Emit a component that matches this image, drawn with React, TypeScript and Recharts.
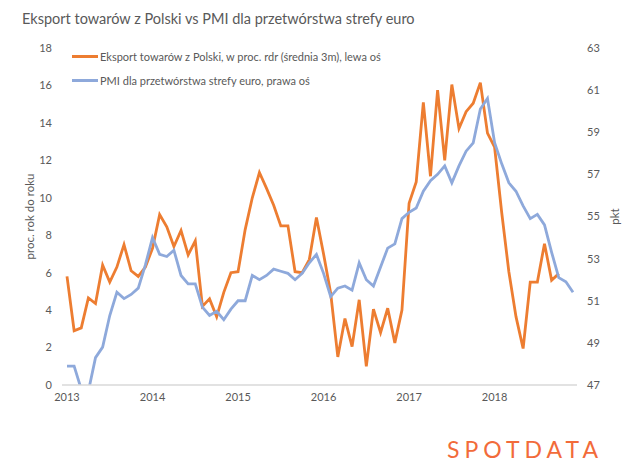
import { Legend, Line, LineChart, XAxis, YAxis } from "recharts";

const years = [2013, 2014, 2015, 2016, 2017, 2018];
const months = years.flatMap((y) =>
  Array.from({ length: 12 }, (_, m) => `${y}-${String(m + 1).padStart(2, "0")}`)
);

// eksport towarów z Polski, % r/r, średnia 3m (lewa oś)
const eksport2013 = [5.8, 2.9, 3.05, 4.65, 4.35, 6.4, 5.5, 6.3, 7.5, 6.1, 5.8, 6.3];
const eksport2014 = [7.3, 9.1, 8.45, 7.4, 8.25, 6.95, 7.7, 4.2, 4.6, 3.65, 4.95, 6.0];
const eksport2015 = [6.05, 8.3, 10.0, 11.35, 10.5, 9.6, 8.5, 8.5, 6.05, 6.0, 6.7, 8.95];
const eksport2016 = [7.0, 4.9, 1.5, 3.55, 2.05, 4.55, 1.0, 4.05, 2.8, 4.1, 2.25, 4.0];
const eksport2017 = [9.7, 10.85, 15.1, 11.15, 15.75, 12.0, 16.05, 13.7, 14.6, 15.05, 16.15, 13.45];
const eksport2018 = [12.7, 9.2, 6.05, 3.65, 1.95, 5.5, 5.5, 7.55, 5.6, 5.95, null, null];

// PMI przetwórstwa strefy euro, pkt (prawa oś)
const pmi2013 = [47.9, 47.9, 46.8, 46.7, 48.3, 48.8, 50.3, 51.4, 51.1, 51.3, 51.6, 52.7];
const pmi2014 = [54.0, 53.2, 53.1, 53.4, 52.2, 51.8, 51.8, 50.7, 50.3, 50.5, 50.1, 50.6];
const pmi2015 = [51.0, 51.0, 52.2, 52.0, 52.2, 52.5, 52.4, 52.3, 52.0, 52.3, 52.8, 53.2];
const pmi2016 = [52.3, 51.2, 51.6, 51.7, 51.5, 52.8, 52.0, 51.7, 52.6, 53.5, 53.7, 54.9];
const pmi2017 = [55.2, 55.4, 56.2, 56.7, 57.0, 57.4, 56.6, 57.4, 58.1, 58.5, 60.1, 60.6];
const pmi2018 = [58.5, 57.5, 56.6, 56.2, 55.5, 54.9, 55.1, 54.6, 53.3, 52.1, 51.9, 51.4];

const eksport = [...eksport2013, ...eksport2014, ...eksport2015, ...eksport2016, ...eksport2017, ...eksport2018];
const pmi = [...pmi2013, ...pmi2014, ...pmi2015, ...pmi2016, ...pmi2017, ...pmi2018];

const leftTicks = [0, 2, 4, 6, 8, 10, 12, 14, 16, 18];
const rightTicks = [47, 49, 51, 53, 55, 57, 59, 61, 63];

const data = months.map((month, i) => ({ month, eksport: eksport[i], pmi: pmi[i] }));

const ORANGE = "#ED7D31";
const BLUE = "#8EA9DB";
const GREY = "#595959";
const FONT = "Lato, 'Open Sans', sans-serif";

const tickStyle = { fill: GREY, fontSize: 11, fontFamily: FONT };

function LegendBox({ payload }: any) {
  return (
    <div style={{ fontFamily: FONT, fontSize: 11, color: GREY }}>
      {(payload || []).map((p: any) => (
        <div key={p.value} style={{ display: "flex", alignItems: "center", height: 24.5 }}>
          <span style={{ display: "inline-block", width: 26, height: 3, background: p.color, marginRight: 2 }} />
          <span>{p.value}</span>
        </div>
      ))}
    </div>
  );
}

export default function App() {
  return (
    <div style={{ position: "absolute", left: 0, top: 0, width: 640, height: 472, background: "#fff", fontFamily: FONT }}>
      <div style={{ position: "absolute", left: 22, top: 10, fontSize: 14.5, color: GREY, whiteSpace: "nowrap" }}>
        Eksport towarów z Polski vs PMI dla przetwórstwa strefy euro
      </div>
      <LineChart width={640} height={472} data={data} margin={{ top: 48, right: 0, bottom: 57, left: 0 }}>
        <XAxis
          dataKey="month"
          height={30}
          interval={0}
          tickLine={false}
          axisLine={{ stroke: "#D9D9D9", strokeWidth: 1.5 }}
          padding={{ left: 5, right: 4 }}
          tick={tickStyle}
          tickFormatter={(m: string) => (m.endsWith("-01") ? m.slice(0, 4) : "")}
        />
        <YAxis
          yAxisId="left"
          width={62}
          domain={[0, 18]}
          ticks={leftTicks}
          interval={0}
          axisLine={false}
          tickLine={false}
          tickMargin={4}
          tick={tickStyle}
          label={{ value: "proc. rok do roku", angle: -90, position: "center", dx: -1, fill: GREY, fontSize: 11.5, fontFamily: FONT }}
        />
        <YAxis
          yAxisId="right"
          orientation="right"
          width={63}
          domain={[47, 63]}
          ticks={rightTicks}
          interval={0}
          allowDataOverflow
          axisLine={false}
          tickLine={false}
          tickMargin={4}
          tick={tickStyle}
          label={{ value: "pkt", angle: -90, position: "center", dx: 6, fill: GREY, fontSize: 11.5, fontFamily: FONT }}
        />
        <Legend
          layout="vertical"
          align="center"
          verticalAlign="middle"
          wrapperStyle={{ top: 44, left: 72, width: "auto" }}
          content={<LegendBox />}
        />
        <Line
          yAxisId="left"
          dataKey="eksport"
          name="Eksport towarów z Polski, w proc. rdr (średnia 3m), lewa oś"
          stroke={ORANGE}
          strokeWidth={2.8}
          dot={false}
          activeDot={false}
          isAnimationActive={false}
        />
        <Line
          yAxisId="right"
          dataKey="pmi"
          name="PMI dla przetwórstwa strefy euro, prawa oś"
          stroke={BLUE}
          strokeWidth={2.8}
          dot={false}
          activeDot={false}
          isAnimationActive={false}
        />
      </LineChart>
      <div
        style={{
          position: "absolute",
          left: 447,
          top: 435,
          fontSize: 23,
          letterSpacing: 5,
          color: "#F26B3A",
          whiteSpace: "nowrap",
        }}
      >
        SPOTDATA
      </div>
    </div>
  );
}
